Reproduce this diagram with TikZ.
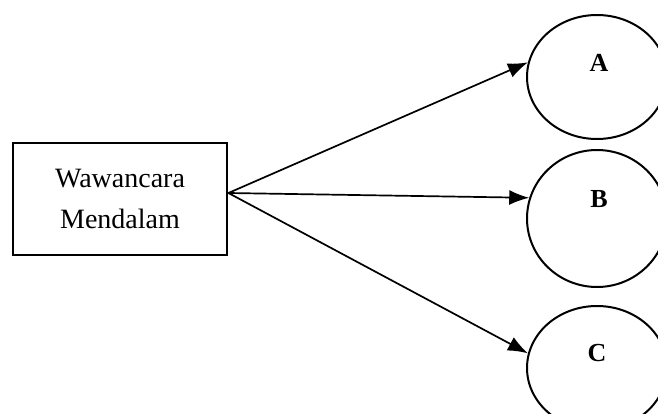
\documentclass[tikz,border=0pt]{standalone}
\usepackage{fontspec}
\setmainfont{Liberation Serif}
\usetikzlibrary{shapes.geometric,arrows.meta}
\begin{document}
\begin{tikzpicture}[x=1pt,y=-1pt,
  box/.style={draw,line width=2.8pt,minimum width=214pt,minimum height=112pt,inner sep=0pt,
    align=center,font=\fontsize{28}{41}\selectfont},
  oval/.style={draw,ellipse,line width=2pt,minimum width=140pt,inner sep=0pt},
  lbl/.style={font=\fontsize{26}{30}\selectfont\bfseries,inner sep=0pt},
  arr/.style={line width=1.7pt,-{Latex[length=20pt,width=15pt]}}]
\useasboundingbox (0,0) rectangle (658,414);
\node[box] (W) at (120,199) {Wawancara\\Mendalam};
\node[oval,minimum height=124pt] (A) at (597,77) {};
\node[oval,minimum height=137pt] (B) at (597,218.5) {};
\node[oval,minimum height=124pt] (C) at (597,368) {};
\node[lbl] (la) at (599,63) {A};
\node[lbl] (lb) at (599,199) {B};
\node[lbl] (lc) at (597,353) {C};
\coordinate (o) at ([yshift=6pt]W.east);
\draw[arr] (o) -- (A.168);
\draw[arr] (o) -- (B.163);
\draw[arr] (o) -- (C.168);
\end{tikzpicture}
\end{document}
